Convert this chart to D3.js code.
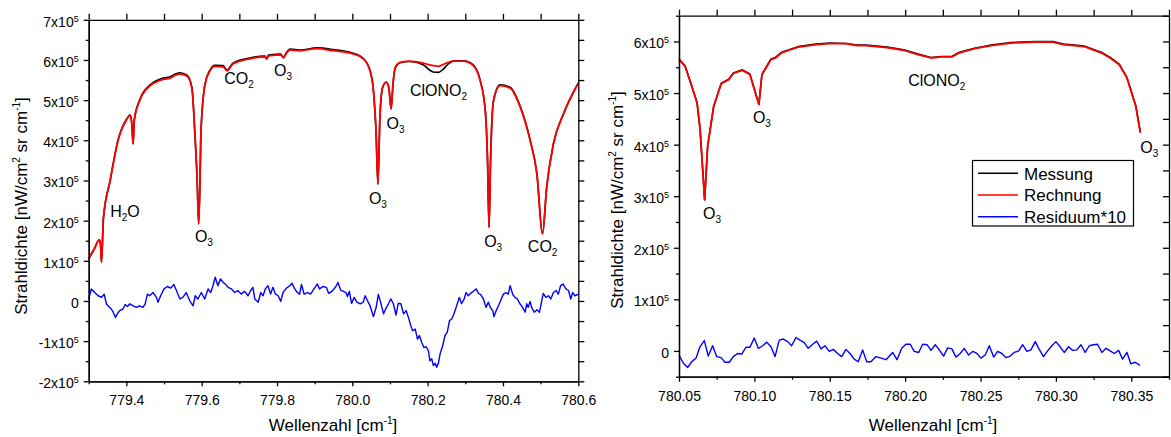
<!DOCTYPE html>
<html><head><meta charset="utf-8">
<script src="https://cdn.jsdelivr.net/npm/d3@7"></script>
<style>
body{margin:0;background:#fff;}
svg{display:block;font-family:"Liberation Sans",Arial,Helvetica,sans-serif;}
</style></head><body>
<svg id="c" width="1171" height="437"></svg>
<script>
// All radiance values are in units of 1e5 nW/(cm^2 sr cm^-1)
const leftWn = [779.300,779.315,779.328,779.331,779.334,779.339,779.357,779.378,779.400,779.410,779.414,779.418,779.421,779.436,779.463,779.489,779.500,779.516,779.530,779.542,779.561,779.574,779.582,779.588,779.592,779.596,779.598,779.609,779.622,779.635,779.657,779.667,779.683,779.728,779.768,779.773,779.777,779.795,779.810,779.817,779.824,779.835,779.861,779.906,779.949,780.002,780.029,780.047,780.056,780.063,780.068,780.073,780.080,780.090,780.097,780.103,780.108,780.114,780.127,780.153,780.188,780.205,780.214,780.229,780.240,780.255,780.268,780.294,780.321,780.339,780.353,780.359,780.363,780.367,780.375,780.392,780.419,780.446,780.472,780.490,780.505,780.516,780.534,780.561,780.600];
const leftRechnung = [1.05,1.30,1.52,1.45,0.96,2.05,3.00,4.00,4.50,4.62,4.45,3.90,4.50,5.00,5.36,5.49,5.52,5.55,5.62,5.65,5.60,5.30,4.16,3.00,1.92,3.20,4.20,5.40,5.73,5.84,5.83,5.73,5.90,6.03,6.08,6.02,6.10,6.12,6.13,6.05,6.15,6.25,6.23,6.28,6.23,6.15,6.03,5.73,5.24,4.20,2.91,4.50,5.30,5.44,5.30,4.78,5.40,5.82,5.94,5.97,5.92,5.88,5.86,5.84,5.88,5.94,5.97,5.97,5.86,5.50,4.74,3.50,1.83,3.50,4.99,5.36,5.30,4.82,4.00,3.17,1.67,2.83,3.91,4.66,5.42];
const leftMessung = [1.05,1.30,1.52,1.45,0.97,2.05,3.00,4.01,4.52,4.63,4.46,3.92,4.50,5.02,5.38,5.52,5.55,5.58,5.65,5.68,5.62,5.31,4.16,3.00,1.92,3.20,4.20,5.41,5.75,5.87,5.86,5.75,5.92,6.05,6.10,6.03,6.12,6.14,6.15,6.06,6.17,6.27,6.25,6.30,6.26,6.17,6.04,5.74,5.24,4.20,2.91,4.50,5.30,5.45,5.30,4.78,5.40,5.80,5.93,5.96,5.88,5.75,5.70,5.69,5.76,5.90,5.97,5.98,5.88,5.51,4.74,3.50,1.83,3.50,5.00,5.38,5.32,4.84,4.01,3.17,1.67,2.83,3.92,4.67,5.43];
const leftResWn = [779.300,779.307,779.316,779.325,779.334,779.341,779.347,779.353,779.360,779.365,779.371,779.376,779.382,779.391,779.397,779.403,779.409,779.418,779.427,779.435,779.444,779.450,779.456,779.462,779.471,779.480,779.484,779.491,779.500,779.509,779.518,779.526,779.533,779.542,779.550,779.559,779.568,779.577,779.583,779.590,779.599,779.608,779.617,779.624,779.630,779.636,779.643,779.650,779.657,779.663,779.670,779.679,779.688,779.696,779.705,779.714,779.723,779.730,779.736,779.741,779.750,779.757,779.763,779.769,779.776,779.783,779.789,779.796,779.803,779.810,779.816,779.825,779.834,779.840,779.847,779.854,779.860,779.865,779.872,779.881,779.889,779.898,779.907,779.913,779.922,779.931,779.937,779.946,779.955,779.962,779.969,779.976,779.983,779.987,779.992,779.998,780.005,780.012,780.021,780.029,780.034,780.040,780.047,780.056,780.063,780.069,780.075,780.083,780.090,780.096,780.102,780.109,780.116,780.122,780.129,780.136,780.143,780.149,780.155,780.160,780.167,780.173,780.178,780.184,780.190,780.196,780.202,780.206,780.211,780.215,780.220,780.224,780.229,780.233,780.240,780.246,780.252,780.258,780.264,780.270,780.277,780.284,780.290,780.297,780.302,780.308,780.314,780.321,780.329,780.335,780.341,780.348,780.355,780.361,780.367,780.373,780.376,780.382,780.388,780.394,780.401,780.408,780.414,780.419,780.426,780.432,780.438,780.445,780.452,780.459,780.463,780.467,780.472,780.476,780.483,780.490,780.497,780.503,780.507,780.514,780.521,780.527,780.534,780.541,780.547,780.553,780.560,780.567,780.574,780.580,780.585,780.591,780.600];
const leftResiduum = [0.05,0.30,0.21,0.13,0.09,0.17,-0.07,-0.14,-0.20,-0.28,-0.41,-0.32,-0.24,-0.20,-0.09,-0.14,-0.07,-0.12,-0.16,-0.12,-0.16,-0.07,0.17,0.13,0.21,0.09,-0.03,0.13,0.30,0.36,0.32,0.41,0.26,0.05,0.09,0.21,0.01,-0.12,0.13,0.05,0.21,0.05,0.30,0.21,0.38,0.59,0.38,0.55,0.46,0.42,0.34,0.30,0.21,0.26,0.17,0.24,0.13,0.26,0.34,0.05,-0.03,0.21,0.13,0.30,0.38,0.17,0.34,0.17,0.13,-0.01,0.21,0.32,0.38,0.44,0.30,0.21,0.17,0.41,0.17,0.21,0.17,0.30,0.42,0.30,0.36,0.34,0.19,0.24,0.34,0.46,0.27,0.24,0.21,0.11,0.24,-0.06,0.09,-0.03,-0.07,-0.03,0.13,0.01,-0.12,-0.39,-0.17,0.16,-0.03,-0.32,-0.17,-0.07,0.05,-0.07,-0.35,-0.06,-0.07,-0.32,-0.24,-0.41,-0.61,-0.74,-0.70,-0.95,-0.86,-1.03,-1.16,-1.14,-1.24,-1.49,-1.44,-1.61,-1.55,-1.65,-1.53,-1.32,-1.11,-0.86,-0.78,-0.49,-0.45,-0.32,-0.12,0.09,-0.07,0.05,0.21,0.13,0.19,0.24,0.30,0.19,0.16,0.05,-0.16,-0.03,-0.17,-0.24,-0.39,-0.24,-0.12,0.01,0.17,0.21,0.17,0.38,0.16,0.09,0.05,-0.07,-0.16,-0.28,-0.07,-0.16,-0.01,-0.16,-0.28,-0.22,-0.28,0.01,0.19,0.09,0.13,0.05,0.21,0.26,0.17,0.38,0.42,0.30,0.26,0.05,0.21,0.13,0.17,0.05];

const rightWn = [780.050,780.054,780.058,780.062,780.064,780.067,780.069,780.073,780.078,780.083,780.086,780.092,780.097,780.103,780.105,780.111,780.114,780.118,780.124,780.129,780.141,780.150,780.161,780.168,780.174,780.181,780.188,780.199,780.208,780.217,780.224,780.231,780.236,780.246,780.257,780.270,780.286,780.298,780.305,780.319,780.330,780.336,780.342,780.347,780.353,780.356];
const rightRechnung = [5.65,5.52,5.17,4.81,4.29,2.93,3.97,4.74,5.18,5.26,5.38,5.44,5.36,4.78,5.36,5.65,5.68,5.78,5.84,5.89,5.94,5.96,5.96,5.92,5.92,5.90,5.88,5.83,5.75,5.68,5.70,5.70,5.78,5.86,5.92,5.97,5.99,5.99,5.94,5.90,5.78,5.68,5.55,5.30,4.74,4.23];
const rightMessung = [5.66,5.53,5.18,4.81,4.29,2.93,3.97,4.74,5.19,5.27,5.39,5.45,5.37,4.78,5.36,5.66,5.69,5.79,5.85,5.90,5.95,5.97,5.96,5.93,5.93,5.91,5.89,5.84,5.76,5.69,5.71,5.71,5.79,5.87,5.93,5.98,6.00,6.00,5.95,5.91,5.79,5.69,5.56,5.31,4.75,4.24];
const rightResWn = [780.0500,780.0529,780.0558,780.0584,780.0613,780.0639,780.0668,780.0694,780.0723,780.0750,780.0779,780.0805,780.0834,780.0860,780.0889,780.0916,780.0944,780.0971,780.0999,780.1026,780.1055,780.1082,780.1110,780.1137,780.1165,780.1192,780.1221,780.1247,780.1276,780.1302,780.1331,780.1357,780.1387,780.1413,780.1442,780.1468,780.1497,780.1523,780.1552,780.1579,780.1607,780.1634,780.1662,780.1689,780.1718,780.1745,780.1773,780.1806,780.1840,780.1873,780.1917,780.1946,780.1977,780.2005,780.2034,780.2060,780.2090,780.2116,780.2145,780.2171,780.2200,780.2226,780.2255,780.2282,780.2310,780.2337,780.2365,780.2392,780.2421,780.2448,780.2476,780.2503,780.2531,780.2558,780.2587,780.2613,780.2642,780.2668,780.2697,780.2723,780.2753,780.2779,780.2808,780.2834,780.2863,780.2889,780.2918,780.2945,780.2973,780.3000,780.3028,780.3055,780.3084,780.3111,780.3139,780.3166,780.3194,780.3221,780.3250,780.3276,780.3305,780.3332,780.3360,780.3387,780.3416,780.3442,780.3471,780.3497,780.3526,780.3557];
const rightResiduum = [-0.08,-0.24,-0.32,-0.21,-0.14,0.08,0.20,-0.10,0.10,-0.11,-0.13,-0.22,-0.22,-0.11,-0.05,-0.06,0.07,0.07,0.25,0.05,0.10,0.17,0.08,-0.11,0.21,0.23,0.18,0.10,0.26,0.21,0.16,0.05,0.13,0.19,0.04,0.10,-0.01,0.03,-0.05,-0.11,0.03,-0.05,-0.16,-0.21,0.02,-0.21,-0.21,-0.11,-0.14,-0.17,-0.03,-0.17,0.05,0.13,0.13,-0.01,-0.03,0.13,0.12,0.01,0.12,0.02,-0.10,0.06,0.04,-0.12,-0.05,0.05,-0.08,-0.01,-0.05,-0.14,-0.08,0.10,-0.12,-0.01,-0.05,-0.13,-0.10,-0.03,0.00,0.12,-0.01,0.02,0.18,0.03,-0.11,0.00,0.10,0.18,0.08,-0.03,0.08,0.01,0.02,0.12,-0.03,0.10,0.12,0.13,-0.03,0.05,0.00,-0.05,0.01,-0.16,-0.03,-0.25,-0.22,-0.28];

const leftXTicks = [779.4,779.6,779.8,780.0,780.2,780.4,780.6];
const leftXMinor = [779.3,779.5,779.7,779.9,780.1,780.3,780.5];
const leftYTicks = [-2,-1,0,1,2,3,4,5,6,7];
const leftYMinor = [-1.5,-0.5,0.5,1.5,2.5,3.5,4.5,5.5,6.5];
const rightXTicks = [780.05,780.10,780.15,780.20,780.25,780.30,780.35];
const rightXMinor = [780.075,780.125,780.175,780.225,780.275,780.325,780.375];
const rightYTicks = [0,1,2,3,4,5,6];
const rightYMinor = [-0.5,0.5,1.5,2.5,3.5,4.5,5.5,6.5];
const legendLabels = ["Messung","Rechnung","Residuum*10"];
const seriesColors = ["#000000","#ff0000","#0000ff"];
// annotations: [wavenumber, value, main text, subscript, trailing text]
const leftNotes = [
  [779.357,2.08,"H","2","O"],[779.582,1.48,"O","3",""],[779.660,5.40,"CO","2",""],
  [779.792,5.61,"O","3",""],[780.044,2.42,"O","3",""],[780.091,4.29,"O","3",""],
  [780.153,5.11,"ClONO","2",""],[780.350,1.35,"O","3",""],[780.466,1.21,"CO","2",""]];
const rightNotes = [
  [780.066,2.56,"O","3",""],[780.099,4.42,"O","3",""],[780.202,5.14,"ClONO","2",""],[780.356,3.84,"O","3",""]];

const svg = d3.select("#c");

function supY(sel){
  sel.each(function(d){
    const t = d3.select(this);
    t.text(null);
    if (d === 0) { t.text("0"); return; }
    t.append("tspan").text(d + "x10");
    t.append("tspan").attr("dy", -5).attr("font-size", 9).text("5");
  });
}

function styleAxis(g){
  g.attr("font-family", null).attr("font-size", null);
  g.selectAll("path,line").attr("stroke", "#000").attr("stroke-width", 1.3);
  g.selectAll("text").attr("fill", "#000").attr("font-size", 14);
}

function panel(c){
  const x = d3.scaleLinear().domain(c.xDomain).range([c.x0, c.x1]);
  const y = d3.scaleLinear().domain(c.yDomain).range([c.yB, c.yT]);
  const g = svg.append("g");
  const mk = (xs, curve) => d3.line().x((d,i)=>x(xs[i])).y(d=>y(d)).curve(curve);
  g.append("path").attr("d", mk(c.resWn, d3.curveLinear)(c.res))
    .attr("fill","none").attr("stroke",seriesColors[2]).attr("stroke-width",1.4).attr("stroke-linejoin","round");
  g.append("path").attr("d", mk(c.wn, c.curve)(c.mess))
    .attr("fill","none").attr("stroke",seriesColors[0]).attr("stroke-width",1.6).attr("stroke-linejoin","round");
  g.append("path").attr("d", mk(c.wn, c.curve)(c.rech))
    .attr("fill","none").attr("stroke",seriesColors[1]).attr("stroke-width",1.8).attr("stroke-linejoin","round");

  g.append("g").attr("transform",`translate(0,${c.yB})`)
    .call(d3.axisBottom(x).tickValues(c.xMinor).tickSize(3).tickSizeOuter(0).tickFormat("")).call(styleAxis);
  g.append("g").attr("transform",`translate(0,${c.yB})`)
    .call(d3.axisBottom(x).tickValues(c.xTicks).tickSize(5).tickSizeOuter(0).tickPadding(9).tickFormat(c.xFmt)).call(styleAxis);
  g.append("g").attr("transform",`translate(0,${c.yT})`)
    .call(d3.axisTop(x).tickValues(c.xTicks.concat(c.xMinor)).tickSize(6).tickSizeOuter(0).tickFormat("")).call(styleAxis);
  g.append("g").attr("transform",`translate(${c.x0},0)`)
    .call(d3.axisLeft(y).tickValues(c.yMinor).tickSize(3).tickSizeOuter(0).tickFormat("")).call(styleAxis);
  const la = g.append("g").attr("transform",`translate(${c.x0},0)`)
    .call(d3.axisLeft(y).tickValues(c.yTicks).tickSize(5).tickSizeOuter(0).tickPadding(5)).call(styleAxis);
  la.selectAll("text").attr("dy","0.46em").call(supY);
  const rAx = c.rightInward ? d3.axisLeft(y) : d3.axisRight(y);
  g.append("g").attr("transform",`translate(${c.x1},0)`)
    .call(rAx.tickValues(c.yTicks.concat(c.yMinor)).tickSize(6).tickSizeOuter(0).tickFormat("")).call(styleAxis);

  c.notes.forEach(n => {
    const t = g.append("text").attr("x", x(n[0])).attr("y", y(n[1])).attr("font-size", 16).attr("fill","#000");
    t.append("tspan").text(n[2]);
    t.append("tspan").attr("dy", 4).attr("font-size", 10).text(n[3]);
    if (n[4]) t.append("tspan").attr("dy", -4).text(n[4]);
  });

  const xt = g.append("text").attr("x", c.xTitleX).attr("y", 431).attr("text-anchor","middle").attr("font-size",17).attr("fill","#000");
  xt.append("tspan").text("Wellenzahl [cm");
  xt.append("tspan").attr("dy",-7).attr("font-size",10).text("-1");
  xt.append("tspan").attr("dy",7).text("]");
  const yt = g.append("text").attr("transform",`translate(${c.yTitleX},${c.yTitleY}) rotate(-90)`)
    .attr("text-anchor","middle").attr("font-size",17).attr("fill","#000");
  yt.append("tspan").text("Strahldichte [nW/cm");
  yt.append("tspan").attr("dy",-7).attr("font-size",10).text("2");
  yt.append("tspan").attr("dy",7).text(" sr cm");
  yt.append("tspan").attr("dy",-7).attr("font-size",10).text("-1");
  yt.append("tspan").attr("dy",7).text("]");
  return {x, y, g};
}

panel({
  xDomain:[779.3,780.6], yDomain:[-2,7], x0:88.7, x1:578.3, yB:381.3, yT:19.8,
  wn:leftWn, mess:leftMessung, rech:leftRechnung, resWn:leftResWn, res:leftResiduum,
  curve:d3.curveMonotoneX, xTicks:leftXTicks, xMinor:leftXMinor, yTicks:leftYTicks, yMinor:leftYMinor,
  xFmt:d3.format(".1f"), rightInward:false, notes:leftNotes,
  xTitleX:333, yTitleX:27, yTitleY:206
});

panel({
  xDomain:[780.05,780.375], yDomain:[-0.5,6.5], x0:679, x1:1169, yB:376.7, yT:15.7,
  wn:rightWn, mess:rightMessung, rech:rightRechnung, resWn:rightResWn, res:rightResiduum,
  curve:d3.curveLinear, xTicks:rightXTicks, xMinor:rightXMinor, yTicks:rightYTicks, yMinor:rightYMinor,
  xFmt:d3.format(".2f"), rightInward:true, notes:rightNotes,
  xTitleX:933, yTitleX:623, yTitleY:200
});

const lg = svg.append("g");
lg.append("rect").attr("x",972.5).attr("y",160.5).attr("width",161).attr("height",65.5)
  .attr("fill","#fff").attr("stroke","#000").attr("stroke-width",1.2);
legendLabels.forEach((lab,i) => {
  const yy = 173.3 + i*21.7;
  lg.append("line").attr("x1",978).attr("x2",1018).attr("y1",yy).attr("y2",yy)
    .attr("stroke",seriesColors[i]).attr("stroke-width",1.5);
  lg.append("text").attr("x",1024).attr("y",yy+6.3).attr("font-size",17).attr("fill","#000").text(lab);
});
</script>
</body></html>
